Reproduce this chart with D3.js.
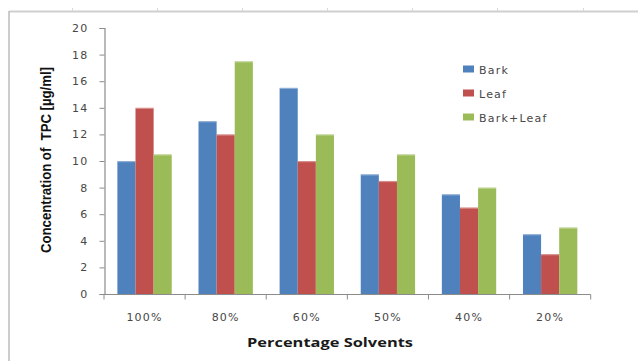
<!DOCTYPE html>
<html>
<head>
<meta charset="utf-8">
<script src="https://cdn.jsdelivr.net/npm/d3@7"></script>
<style>
  html, body { margin: 0; padding: 0; background: #fff; }
  svg { display: block; }
</style>
</head>
<body>
<svg id="chart" width="638" height="361"></svg>
<script>
// TPC concentration by solvent percentage
const categories = ["100%", "80%", "60%", "50%", "40%", "20%"];
const seriesNames = ["Bark", "Leaf", "Bark+Leaf"];
const bark = [10, 13, 15.5, 9, 7.5, 4.5];
const leaf = [14, 12, 10, 8.5, 6.5, 3];
const barkLeaf = [10.5, 17.5, 12, 10.5, 8, 5];
const yTicks = [0, 2, 4, 6, 8, 10, 12, 14, 16, 18, 20];
const colors = ["#4F81BD", "#C0504D", "#9BBB59"];

const seriesValues = [bark, leaf, barkLeaf];
const rows = categories.map((c, i) => ({
  cat: c,
  vals: seriesNames.map((s, j) => ({ name: s, value: seriesValues[j][i], idx: j }))
}));

const svg = d3.select("#chart");
const textColor = "#474747";

// outer frame: top and left rules with small marks along the top
svg.append("line").attr("x1", 9).attr("x2", 638).attr("y1", 11.5).attr("y2", 11.5)
  .attr("stroke", "#cfcfcf").attr("stroke-width", 2);
svg.append("line").attr("x1", 9).attr("x2", 9).attr("y1", 11).attr("y2", 361)
  .attr("stroke", "#bdbdbd").attr("stroke-width", 1.5);
[72, 157, 242, 327, 412, 497, 583].forEach(x => {
  svg.append("line").attr("x1", x + 0.5).attr("x2", x + 0.5).attr("y1", 8).attr("y2", 11)
    .attr("stroke", "#d8d8d8").attr("stroke-width", 1);
});

const x0 = d3.scaleBand().domain(categories).range([104, 590.7])
  .paddingInner(0.33).paddingOuter(0.165);
const x1 = d3.scaleBand().domain(seriesNames).range([0, x0.bandwidth()]).padding(0);
const y = d3.scaleLinear().domain([0, 20]).range([294, 28]);

// bars
const groups = svg.append("g").selectAll("g").data(rows).join("g")
  .attr("transform", d => `translate(${x0(d.cat)},0)`);
groups.selectAll("rect.bar").data(d => d.vals).join("rect")
  .attr("class", "bar")
  .attr("x", d => x1(d.name))
  .attr("y", d => y(d.value))
  .attr("width", x1.bandwidth())
  .attr("height", d => y(0) - y(d.value))
  .attr("fill", d => colors[d.idx]);
// light highlight along each bar top
groups.selectAll("rect.hl").data(d => d.vals).join("rect")
  .attr("class", "hl")
  .attr("x", d => x1(d.name))
  .attr("y", d => y(d.value))
  .attr("width", x1.bandwidth())
  .attr("height", 1.2)
  .attr("fill", "#fff").attr("opacity", 0.35);

// y axis
const yAxis = svg.append("g").attr("transform", "translate(104.5,0)")
  .call(d3.axisLeft(y).tickValues(yTicks).tickSize(5).tickPadding(11).tickFormat(d3.format("d")));
yAxis.select(".domain").attr("stroke", "#8c8c8c").attr("stroke-width", 1.2);
yAxis.selectAll(".tick line").attr("stroke", "#8c8c8c");
yAxis.selectAll("text").attr("fill", textColor)
  .style("font-family", "'DejaVu Sans', Verdana, sans-serif")
  .style("font-size", "11px").style("letter-spacing", "1.2px");

// x axis with ticks at category boundaries
const xAxisG = svg.append("g").attr("transform", "translate(0,294.5)");
xAxisG.append("line").attr("x1", 104).attr("x2", 590.7).attr("y1", 0).attr("y2", 0)
  .attr("stroke", "#8c8c8c").attr("stroke-width", 1.2);
const step = x0.step();
d3.range(categories.length + 1).forEach(i => {
  const xx = 104 + i * step;
  xAxisG.append("line").attr("x1", xx).attr("x2", xx).attr("y1", 0).attr("y2", 5)
    .attr("stroke", "#8c8c8c").attr("stroke-width", 1);
});
xAxisG.selectAll("text").data(categories).join("text")
  .attr("x", d => x0(d) + x0.bandwidth() / 2)
  .attr("y", 26)
  .attr("text-anchor", "middle")
  .attr("fill", textColor)
  .style("font-family", "'DejaVu Sans', Verdana, sans-serif")
  .style("font-size", "11px").style("letter-spacing", "1.2px")
  .text(d => d);

// axis titles
svg.append("text")
  .attr("transform", "translate(51,160) rotate(-90)")
  .attr("text-anchor", "middle")
  .attr("fill", "#111")
  .attr("textLength", 186).attr("lengthAdjust", "spacingAndGlyphs")
  .style("font-family", "'Liberation Sans Narrow', 'Liberation Sans', Arial, sans-serif")
  .style("font-weight", "bold").style("font-size", "14px")
  .text("Concentration of\u00a0 TPC [µg/ml]");

svg.append("text")
  .attr("x", 330).attr("y", 347)
  .attr("text-anchor", "middle")
  .attr("fill", "#1a1a1a")
  .attr("textLength", 166).attr("lengthAdjust", "spacingAndGlyphs")
  .style("font-family", "'Open Sans', 'DejaVu Sans', sans-serif")
  .style("font-weight", "bold").style("font-size", "13px")
  .text("Percentage Solvents");

// legend
const legend = svg.append("g").selectAll("g").data(seriesNames).join("g")
  .attr("transform", (d, i) => `translate(463,${65.5 + i * 24})`);
legend.append("rect").attr("width", 11).attr("height", 7)
  .attr("fill", (d, i) => colors[i]);
legend.append("text").attr("x", 16).attr("y", 8.5)
  .attr("fill", textColor)
  .style("font-family", "'DejaVu Sans', Verdana, sans-serif")
  .style("font-size", "11px").style("letter-spacing", "1.2px")
  .text(d => d);
</script>
</body>
</html>
